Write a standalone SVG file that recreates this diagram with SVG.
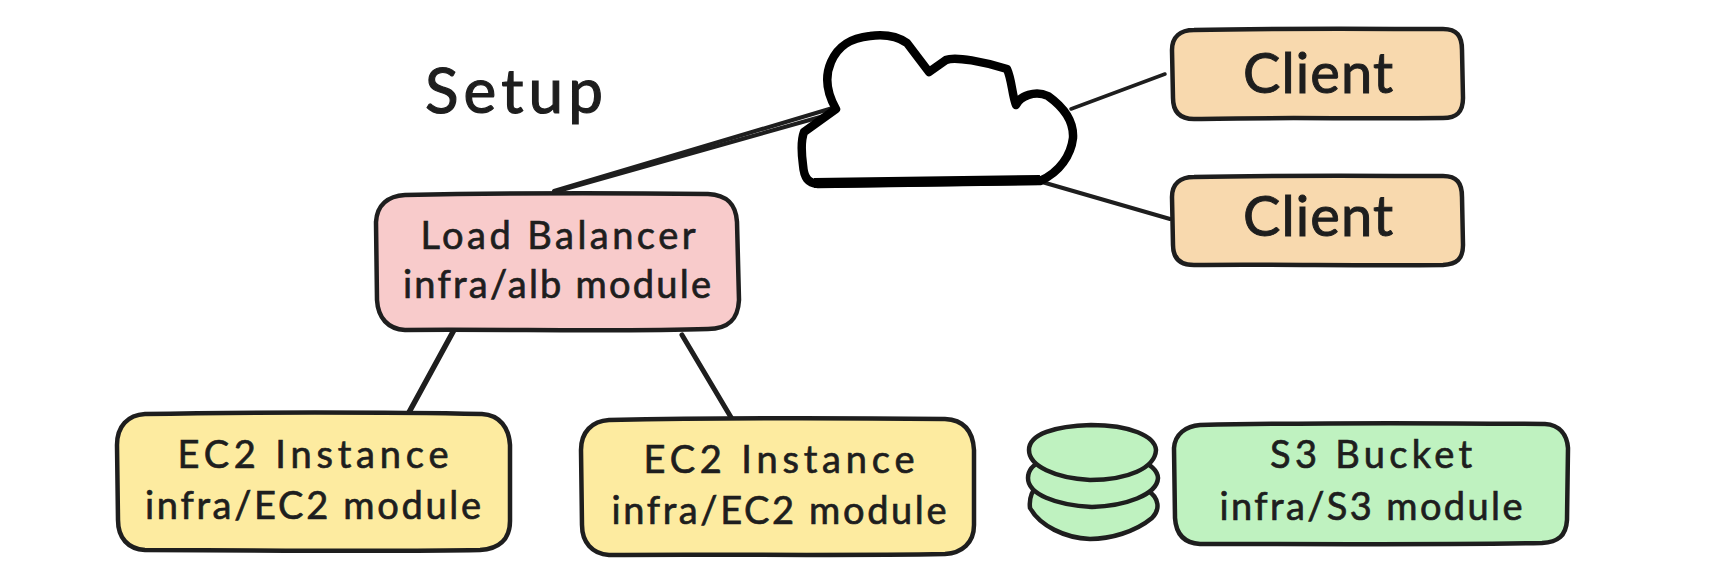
<svg xmlns="http://www.w3.org/2000/svg" width="1710" height="572" viewBox="0 0 1710 572">
<style>
.b{stroke:#1e1e1e;stroke-width:4.5;stroke-linejoin:round;stroke-linecap:round}
.c{fill:none;stroke:#1e1e1e;stroke-linecap:round}
.t{font-family:"Lato","Open Sans",sans-serif;fill:#1e1e1e;stroke:#1e1e1e;stroke-width:.7;text-anchor:middle;font-size:38px}
.peach{fill:#f8d9ae}.pink{fill:#f8cbcb}.yellow{fill:#fdeba0}.green{fill:#bff2c0}
</style>
<rect width="1710" height="572" fill="#fff"/>
<g id="connectors">
<path class="c" stroke-width="4" d="M554 191L836 107"/>
<path class="c" stroke-width="4" d="M558 191L838 112"/>
<path class="c" stroke-width="3.5" d="M1071 109L1165 74"/>
<path class="c" stroke-width="4" d="M1042 182L1170 219"/>
<path class="c" stroke-width="5.5" d="M454 330L407 416"/>
<path class="c" stroke-width="5" d="M682 335L732 419"/>
</g>
<g id="title"><text x="514" y="113" class="t" style="font-size:62px;stroke-width:1.2" textLength="178">Setup</text></g>
<g id="cloud">
<path d="M836 109C828 95 824 78 831 62C838 46 850 38 870 36C885 34 897 36 907 43L929 72L946 60C955 56 985 62 1007 69C1012 80 1012 95 1016 105C1020 96 1035 90 1048 96C1062 106 1074 120 1073 138C1071 155 1060 172 1040 181L818 184C808 183 804 178 803 165C801 150 801 140 804 132Z" fill="#fff" stroke="#000" stroke-width="8.5" stroke-linejoin="round"/>
<path d="M814 183L1040 180" fill="none" stroke="#000" stroke-width="10"/>
</g>
<g id="client-1">
<path class="b peach" d="M1194 30C1280 28 1380 29 1443 29C1457 29 1462 36 1462 50L1463 98C1463 112 1457 118 1443 118C1360 119 1270 117 1194 119C1180 119 1173 112 1173 98L1172 50C1172 37 1180 30 1194 30Z"/>
<text x="1318" y="93" class="t" style="font-size:56px;stroke-width:1" textLength="150">Client</text>
</g>
<g id="client-2">
<path class="b peach" d="M1194 177C1280 175 1380 176 1443 176C1457 176 1462 183 1462 197L1463 245C1463 259 1457 264 1443 265C1360 266 1270 264 1194 265C1180 265 1173 258 1173 245L1172 197C1172 184 1180 177 1194 177Z"/>
<text x="1318" y="236" class="t" style="font-size:56px;stroke-width:1" textLength="150">Client</text>
</g>
<g id="load-balancer">
<path class="b pink" d="M405 195C500 193 630 193 708 194C728 195 736 205 737 222L739 300C738 320 728 329 708 329C620 332 500 329 405 330C388 329 378 318 377 300L376 222C377 205 388 196 405 195Z"/>
<text x="558" y="249" class="t" textLength="275">Load Balancer</text>
<text x="557" y="298" class="t" textLength="308">infra/alb module</text>
</g>
<g id="ec2-1">
<path class="b yellow" d="M145 414C240 412 390 412 482 414C500 415 509 428 510 445L510 521C510 540 498 549 480 550C380 552 250 550 145 550C128 549 118 538 118 520L117 445C117 426 128 415 145 414Z"/>
<text x="313" y="468" class="t" textLength="271">EC2 Instance</text>
<text x="313" y="519" class="t" textLength="336">infra/EC2 module</text>
</g>
<g id="ec2-2">
<path class="b yellow" d="M609 420C710 418 850 418 945 419C965 420 973 432 974 450L974 525C974 543 962 553 945 554C840 556 710 554 609 555C592 554 582 542 582 525L581 450C581 432 592 421 609 420Z"/>
<text x="779" y="473" class="t" textLength="271">EC2 Instance</text>
<text x="779" y="524" class="t" textLength="335">infra/EC2 module</text>
</g>
<g id="s3-stack">
<path class="b green" d="M1030 508C1028 490 1040 478 1062 476C1090 473 1130 476 1147 490C1160 498 1160 510 1152 518C1135 532 1110 539 1090 539C1065 538 1040 526 1030 508Z"/>
<path class="b green" d="M1028 478C1028 462 1050 454 1090 453C1125 452 1157 462 1158 478C1157 495 1125 506 1092 507C1055 505 1028 494 1028 478Z"/>
<path class="b green" d="M1029 450C1029 434 1055 426 1091 425C1130 425 1155 436 1156 450C1155 468 1128 480 1090 480C1055 478 1029 466 1029 450Z"/>
</g>
<g id="s3-bucket">
<path class="b green" d="M1200 425C1290 423 1450 423 1545 424C1560 425 1567 435 1568 448L1567 520C1566 536 1558 542 1542 543C1440 545 1300 544 1200 544C1184 543 1176 534 1175 518L1174 448C1175 434 1186 426 1200 425Z"/>
<text x="1371" y="468" class="t" textLength="202">S3 Bucket</text>
<text x="1371" y="520" class="t" textLength="303">infra/S3 module</text>
</g>
</svg>
